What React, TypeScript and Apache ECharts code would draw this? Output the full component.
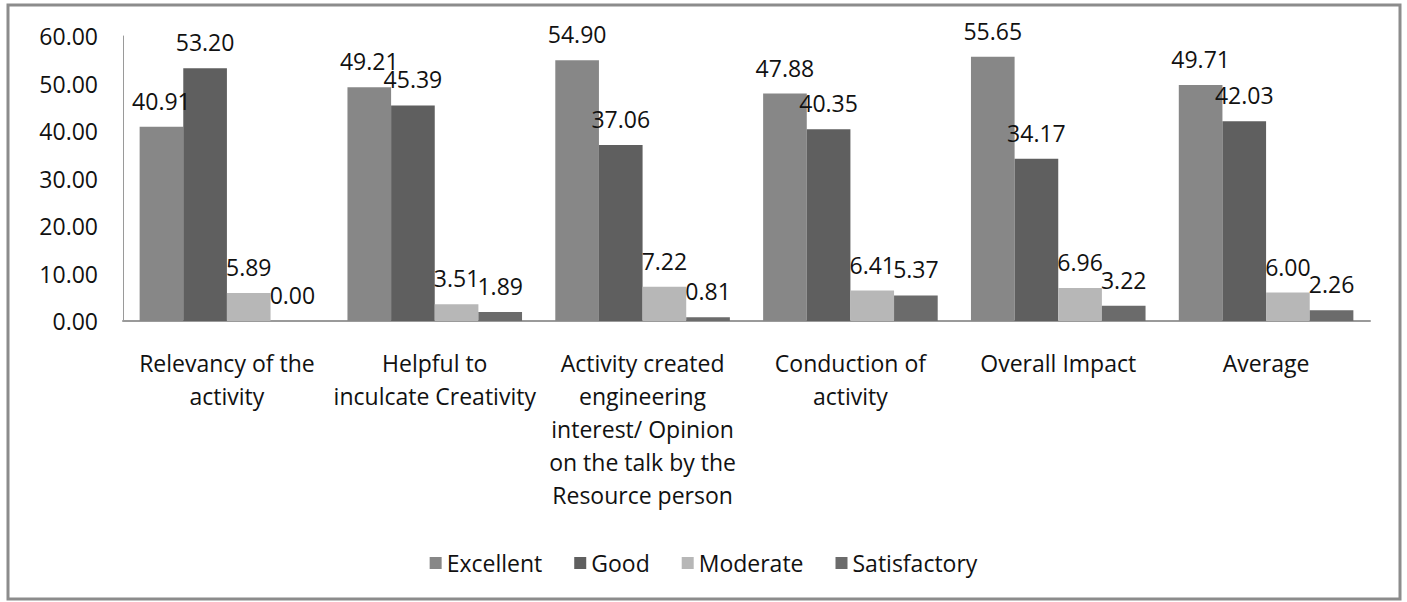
import React, { useEffect, useRef } from "react";
import * as echarts from "echarts";

const categories = [
  "Relevancy of the\nactivity",
  "Helpful to\ninculcate Creativity",
  "Activity created\nengineering\ninterest/ Opinion\non the talk by the\nResource person",
  "Conduction of\nactivity",
  "Overall Impact",
  "Average",
];
const excellent = [40.91, 49.21, 54.9, 47.88, 55.65, 49.71];
const good = [53.2, 45.39, 37.06, 40.35, 34.17, 42.03];
const moderate = [5.89, 3.51, 7.22, 6.41, 6.96, 6.0];
const satisfactory = [0.0, 1.89, 0.81, 5.37, 3.22, 2.26];
const seriesNames = ["Excellent", "Good", "Moderate", "Satisfactory"];
const seriesColors = ["#878787", "#5f5f5f", "#b7b7b7", "#6b6b6b"];

const FONT = "'Open Sans', sans-serif";
const TEXT = "#111111";

export default function App() {
  const ref = useRef<HTMLDivElement>(null);
  useEffect(() => {
    if (!ref.current) return;
    const chart = echarts.init(ref.current, undefined, { renderer: "svg" });
    const values = [excellent, good, moderate, satisfactory];
    chart.setOption({
      animation: false,
      backgroundColor: "#ffffff",
      textStyle: { fontFamily: FONT },
      graphic: [
        {
          type: "rect",
          shape: { x: 8, y: 5, width: 1392, height: 594 },
          style: { fill: "none", stroke: "#8c8c8c", lineWidth: 3 },
          silent: true,
        },
      ],
      legend: {
        data: seriesNames,
        left: "center",
        top: 546,
        icon: "rect",
        itemWidth: 12,
        itemHeight: 12,
        itemGap: 32,
        textStyle: { fontSize: 23, color: TEXT, fontFamily: FONT, lineHeight: 24 },
      },
      grid: { left: 123, right: 37, top: 36, bottom: 281, containLabel: false },
      xAxis: {
        type: "category",
        data: categories,
        axisLine: { show: true, lineStyle: { color: "#9a9a9a", width: 2 } },
        axisTick: { show: false },
        axisLabel: {
          interval: 0,
          fontSize: 23,
          lineHeight: 33,
          margin: 25,
          color: TEXT,
          fontFamily: FONT,
        },
      },
      yAxis: {
        type: "value",
        min: 0,
        max: 60,
        interval: 10,
        axisLine: { show: true, lineStyle: { color: "#9a9a9a", width: 1 } },
        axisTick: { show: false },
        splitLine: { show: false },
        axisLabel: {
          fontSize: 23,
          margin: 25,
          color: TEXT,
          fontFamily: FONT,
          formatter: (v: number) => v.toFixed(2),
        },
      },
      series: seriesNames.map((name, i) => ({
        name,
        type: "bar",
        data: values[i],
        barGap: "0%",
        barCategoryGap: "16%",
        itemStyle: { color: seriesColors[i] },
        label: {
          show: true,
          position: "top",
          distance: 13,
          fontSize: 23,
          lineHeight: 26,
          color: TEXT,
          fontFamily: FONT,
          formatter: (p: any) => Number(p.value).toFixed(2),
        },
      })),
    });
    return () => chart.dispose();
  }, []);
  return (
    <div
      ref={ref}
      style={{ position: "absolute", left: 0, top: 0, width: 1407, height: 602 }}
    />
  );
}
